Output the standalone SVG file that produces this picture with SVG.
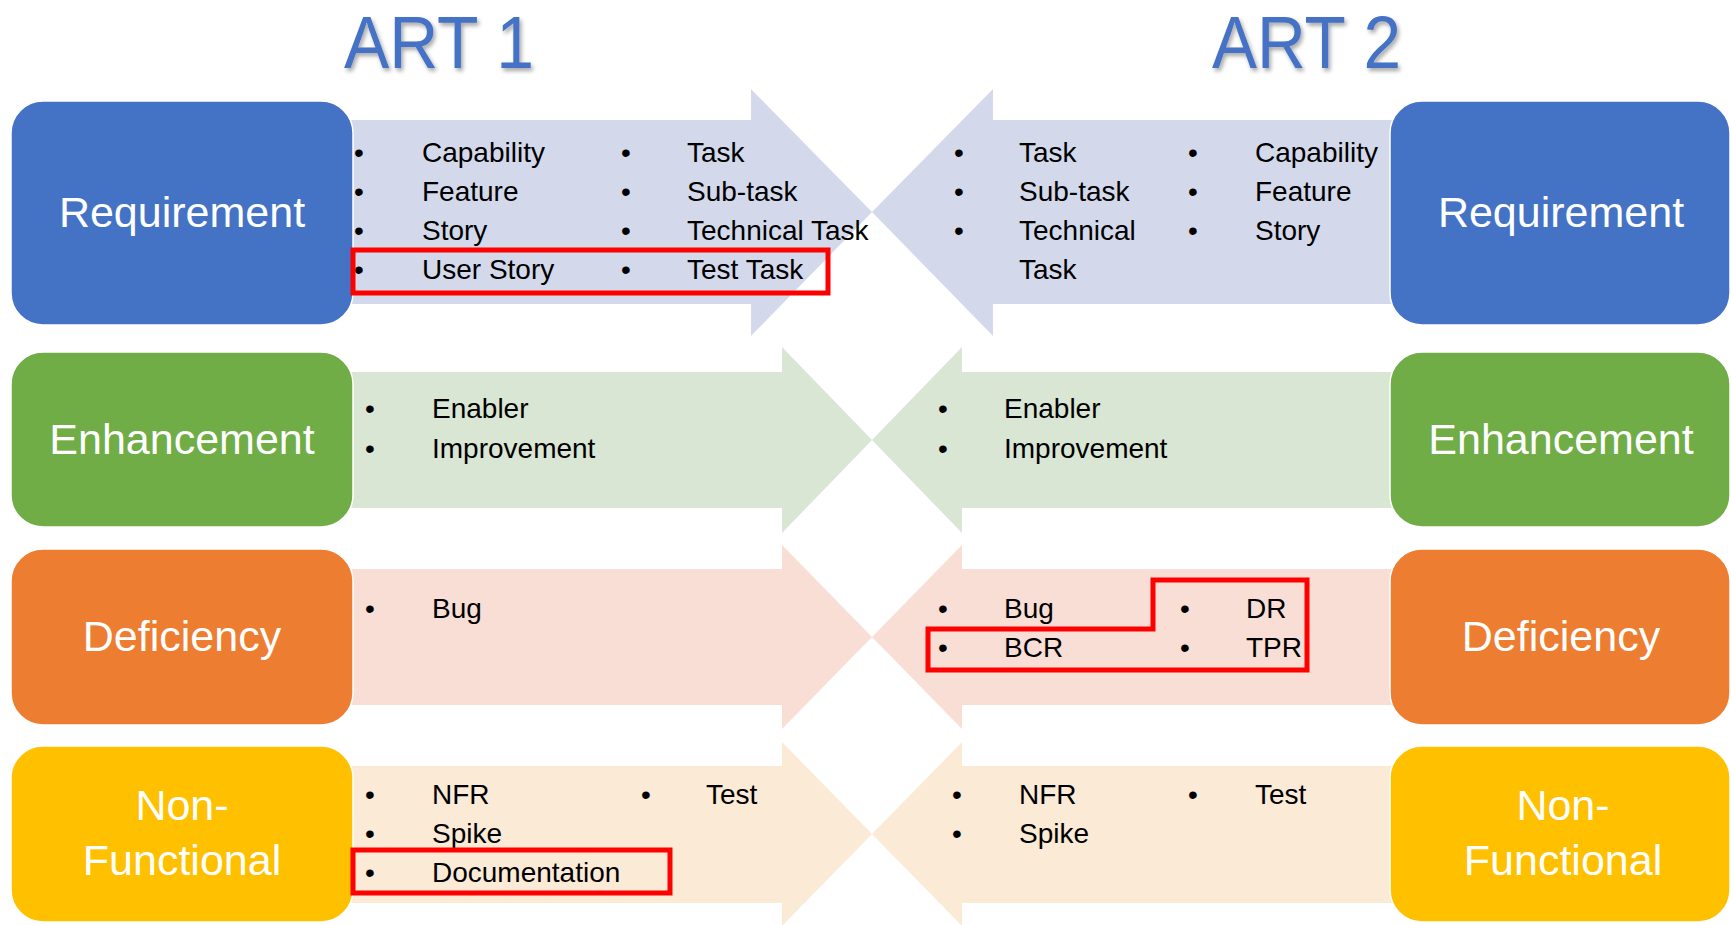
<svg xmlns="http://www.w3.org/2000/svg" width="1731" height="925" viewBox="0 0 1731 925">
  <style>
    .title { font-family: "Liberation Sans", Arial, sans-serif; font-size: 74px; fill: #4472C4; }
    .lbl { font-family: "Liberation Sans", Arial, sans-serif; font-size: 43px; fill: #FFFFFF; text-anchor: middle; }
    .item { font-family: "Liberation Sans", Arial, sans-serif; font-size: 28px; fill: #000000; }
    .box { stroke: #FFFFFF; stroke-width: 1.5; }
    .hl { fill: none; stroke: #FF0000; stroke-width: 5; }
  </style>
  <defs>
    <filter id="shadow" x="-10%" y="-10%" width="130%" height="140%">
      <feDropShadow dx="2" dy="3" stdDeviation="2" flood-color="#000000" flood-opacity="0.35"/>
    </filter>
  </defs>
  <rect width="1731" height="925" fill="#FFFFFF"/>

  <!-- column headings -->
  <text class="title" x="344" y="68" textLength="190" lengthAdjust="spacingAndGlyphs" filter="url(#shadow)">ART 1</text>
  <text class="title" x="1212" y="68" textLength="189" lengthAdjust="spacingAndGlyphs" filter="url(#shadow)">ART 2</text>

  <!-- block arrows pointing toward each other -->
  <g id="connectors">
    <polygon fill="#D3D9EB" points="180,120 751,120 751,89 872,212 751,336 751,304 180,304"/>
    <polygon fill="#D3D9EB" points="1560,120 993,120 993,89 872,212 993,336 993,304 1560,304"/>
    <polygon fill="#D9E6D4" points="180,372 782,372 782,347 872,440 782,533 782,508 180,508"/>
    <polygon fill="#D9E6D4" points="1560,372 962,372 962,347 872,440 962,533 962,508 1560,508"/>
    <polygon fill="#F8DED5" points="180,569 782,569 782,545 872,637 782,729 782,705 180,705"/>
    <polygon fill="#F8DED5" points="1560,569 962,569 962,545 872,637 962,729 962,705 1560,705"/>
    <polygon fill="#FBEAD6" points="180,766 782,766 782,742 872,834 782,926 782,903 180,903"/>
    <polygon fill="#FBEAD6" points="1560,766 962,766 962,742 872,834 962,926 962,903 1560,903"/>
  </g>

  <!-- Requirement row -->
  <g id="req-left">
    <rect class="box" x="11" y="101" width="342" height="224" rx="32" fill="#4472C4"/>
    <text class="lbl" x="182" y="227">Requirement</text>
  </g>
  <g id="req-right">
    <rect class="box" x="1390" y="101" width="340" height="224" rx="32" fill="#4472C4"/>
    <text class="lbl" x="1561" y="227">Requirement</text>
  </g>
  <g id="req-left-items" class="item">
    <text x="354" y="162">•</text><text x="422" y="162">Capability</text>
    <text x="354" y="201">•</text><text x="422" y="201">Feature</text>
    <text x="354" y="240">•</text><text x="422" y="240">Story</text>
    <text x="354" y="279">•</text><text x="422" y="279">User Story</text>
    <text x="621" y="162">•</text><text x="687" y="162">Task</text>
    <text x="621" y="201">•</text><text x="687" y="201">Sub-task</text>
    <text x="621" y="240">•</text><text x="687" y="240">Technical Task</text>
    <text x="621" y="279">•</text><text x="687" y="279">Test Task</text>
  </g>
  <rect class="hl" x="353" y="250" width="475" height="43"/>
  <g id="req-right-items" class="item">
    <text x="954" y="162">•</text><text x="1019" y="162">Task</text>
    <text x="954" y="201">•</text><text x="1019" y="201">Sub-task</text>
    <text x="954" y="240">•</text><text x="1019" y="240">Technical</text>
    <text x="1019" y="279">Task</text>
    <text x="1188" y="162">•</text><text x="1255" y="162">Capability</text>
    <text x="1188" y="201">•</text><text x="1255" y="201">Feature</text>
    <text x="1188" y="240">•</text><text x="1255" y="240">Story</text>
  </g>

  <!-- Enhancement row -->
  <g id="enh-left">
    <rect class="box" x="11" y="352" width="342" height="175" rx="32" fill="#70AD47"/>
    <text class="lbl" x="182" y="454">Enhancement</text>
  </g>
  <g id="enh-right">
    <rect class="box" x="1390" y="352" width="340" height="175" rx="32" fill="#70AD47"/>
    <text class="lbl" x="1561" y="454">Enhancement</text>
  </g>
  <g id="enh-items" class="item">
    <text x="365" y="418">•</text><text x="432" y="418">Enabler</text>
    <text x="365" y="458">•</text><text x="432" y="458">Improvement</text>
    <text x="938" y="418">•</text><text x="1004" y="418">Enabler</text>
    <text x="938" y="458">•</text><text x="1004" y="458">Improvement</text>
  </g>

  <!-- Deficiency row -->
  <g id="def-left">
    <rect class="box" x="11" y="549" width="342" height="176" rx="32" fill="#ED7D31"/>
    <text class="lbl" x="182" y="651">Deficiency</text>
  </g>
  <g id="def-right">
    <rect class="box" x="1390" y="549" width="340" height="176" rx="32" fill="#ED7D31"/>
    <text class="lbl" x="1561" y="651">Deficiency</text>
  </g>
  <g id="def-items" class="item">
    <text x="365" y="618">•</text><text x="432" y="618">Bug</text>
    <text x="938" y="618">•</text><text x="1004" y="618">Bug</text>
    <text x="938" y="657">•</text><text x="1004" y="657">BCR</text>
    <text x="1180" y="618">•</text><text x="1246" y="618">DR</text>
    <text x="1180" y="657">•</text><text x="1246" y="657">TPR</text>
  </g>
  <polygon class="hl" points="1153,580 1307,580 1307,670 928,670 928,629 1153,629"/>

  <!-- Non-Functional row -->
  <g id="nf-left">
    <rect class="box" x="11" y="746" width="342" height="176" rx="32" fill="#FFC000"/>
    <text class="lbl" x="182" y="820">Non-</text>
    <text class="lbl" x="182" y="875">Functional</text>
  </g>
  <g id="nf-right">
    <rect class="box" x="1390" y="746" width="340" height="176" rx="32" fill="#FFC000"/>
    <text class="lbl" x="1563" y="820">Non-</text>
    <text class="lbl" x="1563" y="875">Functional</text>
  </g>
  <g id="nf-items" class="item">
    <text x="365" y="804">•</text><text x="432" y="804">NFR</text>
    <text x="365" y="843">•</text><text x="432" y="843">Spike</text>
    <text x="365" y="882">•</text><text x="432" y="882">Documentation</text>
    <text x="641" y="804">•</text><text x="706" y="804">Test</text>
    <text x="952" y="804">•</text><text x="1019" y="804">NFR</text>
    <text x="952" y="843">•</text><text x="1019" y="843">Spike</text>
    <text x="1188" y="804">•</text><text x="1255" y="804">Test</text>
  </g>
  <rect class="hl" x="353" y="850" width="317" height="43"/>
</svg>
